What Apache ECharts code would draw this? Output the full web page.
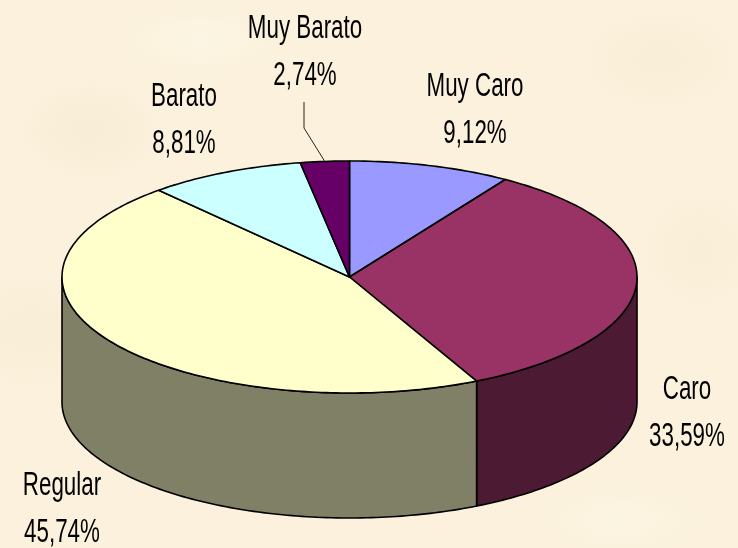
<!DOCTYPE html>
<html>
<head>
<meta charset="utf-8">
<style>
html,body{margin:0;padding:0;width:738px;height:548px;overflow:hidden;
background-color:#fbf1dc;
background-image:
 radial-gradient(ellipse 70px 50px at 90px 130px,rgba(240,228,198,.3),transparent),
 radial-gradient(ellipse 90px 40px at 200px 40px,rgba(255,250,236,.45),transparent),
 radial-gradient(ellipse 80px 60px at 30px 330px,rgba(240,228,198,.22),transparent),
 radial-gradient(ellipse 80px 50px at 660px 60px,rgba(242,230,202,.25),transparent),
 radial-gradient(ellipse 60px 60px at 700px 250px,rgba(242,230,202,.22),transparent),
 radial-gradient(ellipse 90px 40px at 620px 520px,rgba(255,250,236,.4),transparent);}
#c{width:738px;height:548px;}
</style>
<script src="https://cdn.jsdelivr.net/npm/echarts@6/dist/echarts.min.js"></script>
</head>
<body>
<div id="c"></div>
<script>
// Slices clockwise from 12 o'clock
var categories = ['Muy Caro', 'Caro', 'Regular', 'Barato', 'Muy Barato'];
var shares = [9.12, 33.59, 45.74, 8.81, 2.74];
var topColors = ['#9999ff', '#993366', '#ffffcc', '#ccffff', '#660066'];
var sideColors = ['#4d4d80', '#4d1a33', '#808066', '#668080', '#330033'];
// Label centre x and first-line centre y, keyed by slice order
var labelX = [475, 687, 62, 184, 305];
var labelY = [87.5, 390.5, 486.5, 97.5, 29.5];

var cx = 349.5, cy = 277, rx = 287.5, ry = 116, depth = 125;
var lineGap = 46.5;
var total = shares.reduce(function (a, b) { return a + b; }, 0);

function pt(deg, dy) {
  var r = deg * Math.PI / 180;
  return [cx + rx * Math.sin(r), cy - ry * Math.cos(r) + (dy || 0)];
}
function arc(a0, a1, dy) {
  var n = Math.max(2, Math.ceil(Math.abs(a1 - a0))), out = [];
  for (var i = 0; i <= n; i++) out.push(pt(a0 + (a1 - a0) * i / n, dy));
  return out;
}
function startDeg(i) {
  var s = 0;
  for (var k = 0; k < i; k++) s += shares[k];
  return s / total * 360;
}
var edge = { stroke: '#000', lineWidth: 1.6, lineJoin: 'round' };
function shape(points, fill) {
  return { type: 'polygon', shape: { points: points }, style: Object.assign({ fill: fill }, edge) };
}
var font = '30px "Liberation Sans", Arial, sans-serif';
function text(x, y, s) {
  return { type: 'text', x: x, y: y, scaleX: 0.745, scaleY: 1.08, style: { text: s, font: font, fill: '#000', align: 'center', verticalAlign: 'middle' } };
}

function sideItem(params, api) {
  var i = params.dataIndex, a0 = startDeg(i), a1 = a0 + api.value(0) / total * 360;
  var f0 = Math.max(a0, 90), f1 = Math.min(a1, 270);
  if (f1 <= f0) return { type: 'group', children: [] };
  return shape(arc(f0, f1, 0).concat(arc(f1, f0, depth)), sideColors[i]);
}
function topItem(params, api) {
  var i = params.dataIndex, a0 = startDeg(i), a1 = a0 + api.value(0) / total * 360;
  return shape([[cx, cy]].concat(arc(a0, a1, 0)), topColors[i]);
}
function labelItem(params, api) {
  var i = params.dataIndex, v = api.value(0);
  var kids = [
    text(labelX[i], labelY[i], categories[i]),
    text(labelX[i], labelY[i] + lineGap, v.toFixed(2).replace('.', ',') + '%')
  ];
  if (categories[i] === 'Muy Barato') {
    var a0 = startDeg(i), mid = a0 + v / total * 180, end = pt(mid, 0);
    kids.push({
      type: 'polyline',
      shape: { points: [[labelX[i] - 1, labelY[i] + lineGap + 26], [labelX[i] - 1, labelY[i] + lineGap + 52], end] },
      style: { stroke: '#222', lineWidth: 1, fill: null }
    });
  }
  return { type: 'group', children: kids };
}

var chart = echarts.init(document.getElementById('c'), null, { renderer: 'canvas' });
chart.setOption({
  animation: false,
  backgroundColor: 'transparent',
  series: [
    { type: 'custom', coordinateSystem: 'none', silent: true, data: shares, renderItem: sideItem, z: 1 },
    { type: 'custom', coordinateSystem: 'none', silent: true, data: shares, renderItem: topItem, z: 2 },
    { type: 'custom', coordinateSystem: 'none', silent: true, data: shares, renderItem: labelItem, z: 3 }
  ]
});
</script>
</body>
</html>
